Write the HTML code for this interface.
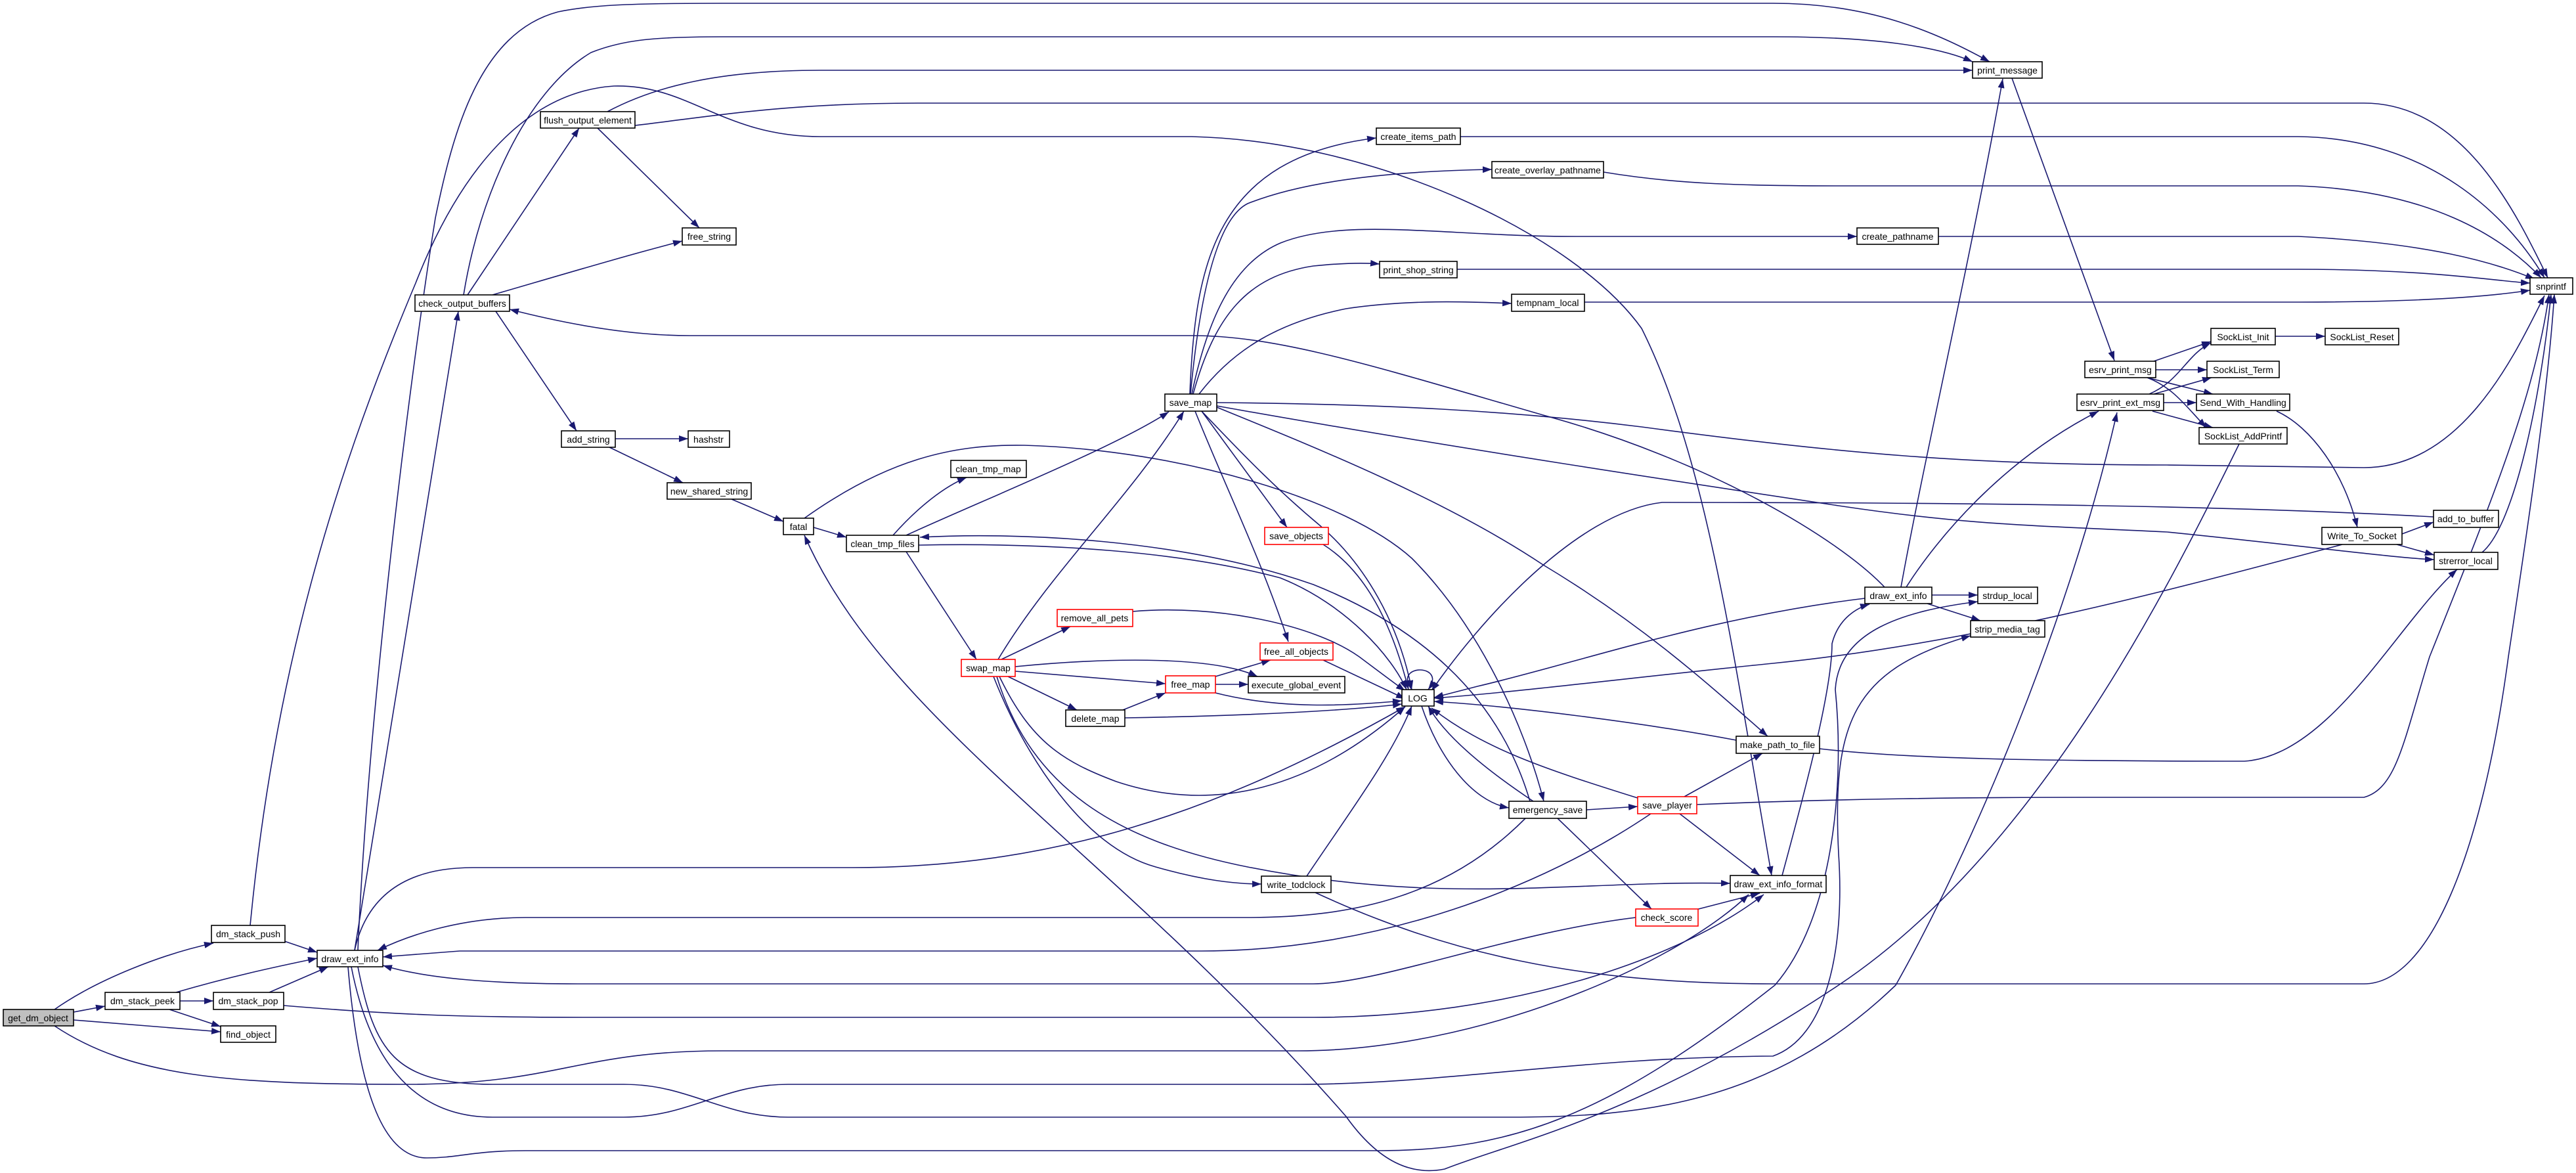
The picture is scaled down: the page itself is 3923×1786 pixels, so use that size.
<!DOCTYPE html>
<html><head><meta charset="utf-8"><style>
html,body{margin:0;padding:0;background:#fff;}
svg{display:block;}
text{font-family:"Liberation Sans",sans-serif;font-size:14px;fill:#000;}
</style></head><body>
<svg width="3923" height="1786" viewBox="0 0 3923 1786" xmlns="http://www.w3.org/2000/svg">
<defs><marker id="a" markerUnits="userSpaceOnUse" markerWidth="15" markerHeight="11" refX="14" refY="5" orient="auto"><path d="M0,0 L14,5 L0,10 z" fill="#191970"/></marker></defs>
<g fill="none" stroke="#191970" stroke-width="1.6" marker-end="url(#a)">
<path d="M83,1537 C150,1490 250,1452 325,1436"/>
<path d="M112,1541 L160,1532"/>
<path d="M112,1553 L336,1571"/>
<path d="M83,1562 C200,1640 350,1651 620,1651 C850,1651 880,1600 1100,1600 L1977,1600 C2250,1600 2550,1470 2663,1362"/>
<path d="M268,1511 C350,1487 420,1472 483,1459"/>
<path d="M274,1524 L325,1524"/>
<path d="M258,1537 L336,1563"/>
<path d="M410,1511 L500,1472"/>
<path d="M432,1531 C600,1545 700,1549 900,1549 L2000,1549 C2300,1549 2560,1460 2686,1362"/>
<path d="M433,1433 L483,1450"/>
<path d="M381,1409 C420,1000 520,700 633,431 C700,260 800,140 935,131 C1050,128 1100,208 1250,208 L1815,208 C2100,215 2400,360 2500,500 C2600,700 2640,1000 2698,1333"/>
<path d="M540,1447 L698,474"/>
<path d="M540,1447 C555,1380 600,1321 720,1321 L1298,1321 C1600,1321 1850,1240 2140,1076"/>
<path d="M545,1447 C560,1100 620,600 663,332 C690,200 730,50 850,18 C900,8 950,5 1100,5 L2700,5 C2850,5 2950,50 3030,94"/>
<path d="M2323,1246 C2200,1370 2050,1397 1900,1397 L800,1397 C700,1397 620,1425 575,1447"/>
<path d="M2514,1239 C2350,1350 2100,1448 1830,1448 L700,1448 L583,1457"/>
<path d="M2491,1397 C2300,1420 2100,1498 2000,1498 L880,1498 C750,1498 650,1490 583,1470"/>
<path d="M545,1472 C570,1600 600,1651 750,1651 L950,1651 C1050,1651 1100,1701 1200,1701 L2300,1701 C2500,1701 2700,1680 2887,1500 C3000,1300 3150,950 3224,628"/>
<path d="M535,1472 C560,1600 620,1701 750,1701 L950,1701 C1050,1701 1100,1651 1200,1651 L1977,1651 C2200,1651 2400,1610 2700,1608 C2780,1580 2810,1450 2800,1300 C2790,1100 2820,1020 3001,968"/>
<path d="M530,1472 C545,1650 580,1763 650,1763 C700,1763 720,1752 800,1752 L2100,1752 C2300,1752 2450,1700 2703,1500 C2790,1400 2810,1200 2795,1050 C2800,960 2900,930 3012,916"/>
<path d="M706,449 C730,300 800,140 900,80 C950,60 1000,56 1100,56 L2700,56 C2850,56 2950,70 3004,94"/>
<path d="M712,449 L882,195"/>
<path d="M750,449 C850,420 950,390 1039,367"/>
<path d="M755,474 L878,656"/>
<path d="M2870,894 C2800,820 2600,700 2350,632 C2100,560 1950,511 1815,511 L1050,511 C950,511 850,490 776,471"/>
<path d="M925,170 C1000,130 1100,107 1250,107 L3004,107"/>
<path d="M967,191 C1100,175 1200,157 1400,157 L3600,157 C3750,157 3830,320 3880,423"/>
<path d="M910,195 L1065,347"/>
<path d="M937,668 L1048,668"/>
<path d="M928,681 L1040,735"/>
<path d="M1114,760 L1193,794"/>
<path d="M1239,803 L1289,818"/>
<path d="M1225,789 C1350,700 1450,676 1560,678 C1800,685 2050,760 2150,850 C2250,950 2320,1100 2351,1220"/>
<path d="M1360,815 C1400,770 1440,740 1472,727"/>
<path d="M1380,815 C1500,760 1700,680 1780,627"/>
<path d="M2330,1220 C2280,1050 2150,950 2000,890 C1800,820 1550,810 1401,818"/>
<path d="M1399,830 C1600,826 1800,840 1950,880 C2050,920 2120,1000 2142,1050"/>
<path d="M1380,840 L1487,1004"/>
<path d="M1513,1030 C1560,1150 1650,1290 1760,1320 C1830,1340 1880,1346 1921,1346"/>
<path d="M1525,1004 L1630,954"/>
<path d="M1546,1022 L1775,1041"/>
<path d="M1546,1015 C1700,1000 1850,1000 1915,1030"/>
<path d="M1535,1030 L1640,1081"/>
<path d="M1522,1030 C1570,1130 1620,1160 1700,1190 C1850,1240 2000,1200 2140,1076"/>
<path d="M1520,1004 C1600,870 1720,760 1803,626"/>
<path d="M1518,1030 C1570,1200 1700,1280 1900,1320 C2200,1380 2400,1340 2635,1345"/>
<path d="M1725,931 C1850,920 2000,950 2070,1000 C2110,1030 2130,1045 2140,1052"/>
<path d="M1851,1030 L1935,1005"/>
<path d="M1851,1042 L1901,1042"/>
<path d="M1851,1055 C1950,1080 2050,1075 2135,1067"/>
<path d="M1710,1081 L1775,1055"/>
<path d="M1713,1093 C1900,1090 2050,1082 2135,1072"/>
<path d="M2015,1005 L2140,1064"/>
<path d="M2015,829 C2080,870 2120,950 2145,1050"/>
<path d="M1830,626 L1960,803"/>
<path d="M1820,626 C1870,750 1920,850 1962,977"/>
<path d="M1830,626 C1900,700 1950,750 2010,800 C2080,860 2130,950 2150,1050"/>
<path d="M1853,620 C2000,680 2200,760 2350,860 C2500,950 2600,1040 2692,1121"/>
<path d="M1853,613 C2100,615 2300,625 2500,650 C2800,690 3000,708 3300,708 L3600,712 C3750,712 3830,540 3875,450"/>
<path d="M1853,618 C2200,680 2600,740 2800,770 C3000,800 3100,800 3300,810 C3500,830 3650,850 3707,852"/>
<path d="M1812,600 C1820,400 1850,240 2096,210"/>
<path d="M1813,600 C1830,420 1860,330 1900,310 C2000,270 2150,260 2272,258"/>
<path d="M1815,600 C1840,480 1880,400 1950,370 C2050,330 2200,360 2400,360 L2828,360"/>
<path d="M1817,600 C1850,480 1900,420 2000,405 C2050,400 2080,400 2101,402"/>
<path d="M1826,600 C1880,530 1950,490 2050,470 C2150,455 2250,460 2302,462"/>
<path d="M2224,208 L3500,208 C3700,210 3820,330 3875,423"/>
<path d="M2442,262 C2550,280 2650,283 2800,283 L3500,283 C3700,290 3810,360 3870,423"/>
<path d="M2952,360 L3500,360 C3700,370 3800,400 3860,425"/>
<path d="M2219,410 L3500,410 C3700,410 3800,428 3853,431"/>
<path d="M2413,460 L3500,460 C3700,460 3800,450 3853,442"/>
<path d="M2150,1050 C2120,1010 2205,1010 2175,1050"/>
<path d="M2165,1075 C2190,1150 2240,1220 2298,1230"/>
<path d="M2335,1220 C2260,1170 2200,1120 2175,1075"/>
<path d="M2416,1233 L2494,1228"/>
<path d="M2372,1246 L2515,1384"/>
<path d="M2565,1213 L2684,1147"/>
<path d="M2558,1239 L2680,1333"/>
<path d="M2494,1215 C2350,1170 2260,1140 2180,1078"/>
<path d="M2584,1225 C2800,1216 3000,1214 3200,1214 L3600,1214 C3650,1200 3660,1130 3700,1000 C3800,750 3860,600 3882,448"/>
<path d="M2583,1385 L2680,1360"/>
<path d="M2714,1333 C2750,1200 2790,1050 2790,980 C2800,940 2830,925 2847,920"/>
<path d="M2942,906 L3012,906"/>
<path d="M2935,919 L3016,945"/>
<path d="M2840,911 C2600,940 2400,1010 2250,1045 L2184,1062"/>
<path d="M2895,894 C2930,700 3000,400 3050,120"/>
<path d="M2903,894 C2950,820 3050,700 3196,626"/>
<path d="M2644,1127 C2500,1100 2300,1075 2184,1068"/>
<path d="M2771,1140 C2900,1155 3100,1159 3418,1159 C3550,1150 3650,950 3742,867"/>
<path d="M3064,119 L3220,549"/>
<path d="M3280,550 L3367,520"/>
<path d="M3283,563 L3361,563"/>
<path d="M3270,575 L3370,600"/>
<path d="M3270,575 C3310,590 3330,620 3360,651"/>
<path d="M3273,600 C3320,580 3330,540 3367,522"/>
<path d="M3280,600 L3368,575"/>
<path d="M3295,613 L3345,613"/>
<path d="M3278,626 L3370,651"/>
<path d="M3465,512 L3541,512"/>
<path d="M3467,626 C3520,650 3570,720 3590,803"/>
<path d="M3658,813 L3706,795"/>
<path d="M3650,829 L3707,845"/>
<path d="M3567,829 C3300,900 3000,980 2700,1010 C2500,1030 2300,1055 2184,1063"/>
<path d="M3780,841 C3830,800 3870,600 3885,448"/>
<path d="M3706,787 C3400,770 3000,765 2531,765 C2400,780 2250,950 2180,1052"/>
<path d="M3410,676 C3300,900 3100,1300 2800,1500 C2500,1700 2300,1740 2200,1780 C2150,1790 2100,1770 2050,1700 C1700,1300 1350,1100 1225,815"/>
<path d="M1990,1334 C2060,1230 2120,1150 2150,1075"/>
<path d="M2003,1359 C2200,1450 2400,1498 2700,1498 L3600,1498 C3700,1498 3780,1300 3820,1000 C3850,800 3880,600 3890,448"/>
</g>
<g stroke-width="1.6">
<rect x="5" y="1537" width="107" height="25" fill="#bfbfbf" stroke="#000"/><text x="58" y="1555" text-anchor="middle">get_dm_object</text>
<rect x="322" y="1409" width="112" height="26" fill="#fff" stroke="#000"/><text x="378" y="1427" text-anchor="middle">dm_stack_push</text>
<rect x="160" y="1511" width="114" height="26" fill="#fff" stroke="#000"/><text x="217" y="1529" text-anchor="middle">dm_stack_peek</text>
<rect x="325" y="1511" width="107" height="26" fill="#fff" stroke="#000"/><text x="378" y="1529" text-anchor="middle">dm_stack_pop</text>
<rect x="336" y="1562" width="84" height="25" fill="#fff" stroke="#000"/><text x="378" y="1580" text-anchor="middle">find_object</text>
<rect x="483" y="1447" width="100" height="25" fill="#fff" stroke="#000"/><text x="533" y="1465" text-anchor="middle">draw_ext_info</text>
<rect x="632" y="449" width="144" height="25" fill="#fff" stroke="#000"/><text x="704" y="467" text-anchor="middle">check_output_buffers</text>
<rect x="823" y="170" width="144" height="25" fill="#fff" stroke="#000"/><text x="895" y="188" text-anchor="middle">flush_output_element</text>
<rect x="1039" y="347" width="82" height="26" fill="#fff" stroke="#000"/><text x="1080" y="365" text-anchor="middle">free_string</text>
<rect x="855" y="656" width="82" height="25" fill="#fff" stroke="#000"/><text x="896" y="674" text-anchor="middle">add_string</text>
<rect x="1048" y="656" width="63" height="25" fill="#fff" stroke="#000"/><text x="1079" y="674" text-anchor="middle">hashstr</text>
<rect x="1016" y="735" width="128" height="25" fill="#fff" stroke="#000"/><text x="1080" y="753" text-anchor="middle">new_shared_string</text>
<rect x="1193" y="789" width="46" height="25" fill="#fff" stroke="#000"/><text x="1216" y="807" text-anchor="middle">fatal</text>
<rect x="1289" y="815" width="110" height="25" fill="#fff" stroke="#000"/><text x="1344" y="833" text-anchor="middle">clean_tmp_files</text>
<rect x="1448" y="701" width="115" height="26" fill="#fff" stroke="#000"/><text x="1505" y="719" text-anchor="middle">clean_tmp_map</text>
<rect x="1774" y="600" width="79" height="26" fill="#fff" stroke="#000"/><text x="1813" y="618" text-anchor="middle">save_map</text>
<rect x="1610" y="928" width="115" height="26" fill="#fff" stroke="#f00"/><text x="1667" y="946" text-anchor="middle">remove_all_pets</text>
<rect x="1464" y="1004" width="82" height="26" fill="#fff" stroke="#f00"/><text x="1505" y="1022" text-anchor="middle">swap_map</text>
<rect x="1919" y="979" width="111" height="26" fill="#fff" stroke="#f00"/><text x="1974" y="997" text-anchor="middle">free_all_objects</text>
<rect x="1775" y="1029" width="76" height="26" fill="#fff" stroke="#f00"/><text x="1813" y="1047" text-anchor="middle">free_map</text>
<rect x="1901" y="1030" width="147" height="25" fill="#fff" stroke="#000"/><text x="1974" y="1048" text-anchor="middle">execute_global_event</text>
<rect x="1623" y="1081" width="90" height="25" fill="#fff" stroke="#000"/><text x="1668" y="1099" text-anchor="middle">delete_map</text>
<rect x="2135" y="1050" width="49" height="25" fill="#fff" stroke="#000"/><text x="2159" y="1068" text-anchor="middle">LOG</text>
<rect x="1921" y="1334" width="106" height="25" fill="#fff" stroke="#000"/><text x="1974" y="1352" text-anchor="middle">write_todclock</text>
<rect x="1926" y="803" width="97" height="26" fill="#fff" stroke="#f00"/><text x="1974" y="821" text-anchor="middle">save_objects</text>
<rect x="2298" y="1220" width="118" height="26" fill="#fff" stroke="#000"/><text x="2357" y="1238" text-anchor="middle">emergency_save</text>
<rect x="2494" y="1213" width="90" height="26" fill="#fff" stroke="#f00"/><text x="2539" y="1231" text-anchor="middle">save_player</text>
<rect x="2491" y="1384" width="95" height="26" fill="#fff" stroke="#f00"/><text x="2538" y="1402" text-anchor="middle">check_score</text>
<rect x="2635" y="1333" width="146" height="26" fill="#fff" stroke="#000"/><text x="2708" y="1351" text-anchor="middle">draw_ext_info_format</text>
<rect x="2644" y="1121" width="127" height="26" fill="#fff" stroke="#000"/><text x="2707" y="1139" text-anchor="middle">make_path_to_file</text>
<rect x="2840" y="894" width="102" height="25" fill="#fff" stroke="#000"/><text x="2891" y="912" text-anchor="middle">draw_ext_info</text>
<rect x="3012" y="894" width="91" height="25" fill="#fff" stroke="#000"/><text x="3057" y="912" text-anchor="middle">strdup_local</text>
<rect x="3001" y="945" width="113" height="25" fill="#fff" stroke="#000"/><text x="3057" y="963" text-anchor="middle">strip_media_tag</text>
<rect x="3004" y="94" width="106" height="25" fill="#fff" stroke="#000"/><text x="3057" y="112" text-anchor="middle">print_message</text>
<rect x="2096" y="195" width="128" height="25" fill="#fff" stroke="#000"/><text x="2160" y="213" text-anchor="middle">create_items_path</text>
<rect x="2272" y="246" width="170" height="25" fill="#fff" stroke="#000"/><text x="2357" y="264" text-anchor="middle">create_overlay_pathname</text>
<rect x="2828" y="347" width="124" height="25" fill="#fff" stroke="#000"/><text x="2890" y="365" text-anchor="middle">create_pathname</text>
<rect x="2101" y="398" width="118" height="25" fill="#fff" stroke="#000"/><text x="2160" y="416" text-anchor="middle">print_shop_string</text>
<rect x="2302" y="448" width="111" height="26" fill="#fff" stroke="#000"/><text x="2357" y="466" text-anchor="middle">tempnam_local</text>
<rect x="3853" y="423" width="65" height="25" fill="#fff" stroke="#000"/><text x="3885" y="441" text-anchor="middle">snprintf</text>
<rect x="3367" y="500" width="98" height="25" fill="#fff" stroke="#000"/><text x="3416" y="518" text-anchor="middle">SockList_Init</text>
<rect x="3541" y="500" width="112" height="25" fill="#fff" stroke="#000"/><text x="3597" y="518" text-anchor="middle">SockList_Reset</text>
<rect x="3175" y="550" width="108" height="25" fill="#fff" stroke="#000"/><text x="3229" y="568" text-anchor="middle">esrv_print_msg</text>
<rect x="3361" y="550" width="110" height="25" fill="#fff" stroke="#000"/><text x="3416" y="568" text-anchor="middle">SockList_Term</text>
<rect x="3163" y="600" width="132" height="25" fill="#fff" stroke="#000"/><text x="3229" y="618" text-anchor="middle">esrv_print_ext_msg</text>
<rect x="3345" y="600" width="142" height="25" fill="#fff" stroke="#000"/><text x="3416" y="618" text-anchor="middle">Send_With_Handling</text>
<rect x="3349" y="651" width="134" height="25" fill="#fff" stroke="#000"/><text x="3416" y="669" text-anchor="middle">SockList_AddPrintf</text>
<rect x="3706" y="777" width="99" height="26" fill="#fff" stroke="#000"/><text x="3755" y="795" text-anchor="middle">add_to_buffer</text>
<rect x="3536" y="803" width="122" height="26" fill="#fff" stroke="#000"/><text x="3597" y="821" text-anchor="middle">Write_To_Socket</text>
<rect x="3707" y="841" width="97" height="26" fill="#fff" stroke="#000"/><text x="3755" y="859" text-anchor="middle">strerror_local</text>
</g>
</svg>
</body></html>
